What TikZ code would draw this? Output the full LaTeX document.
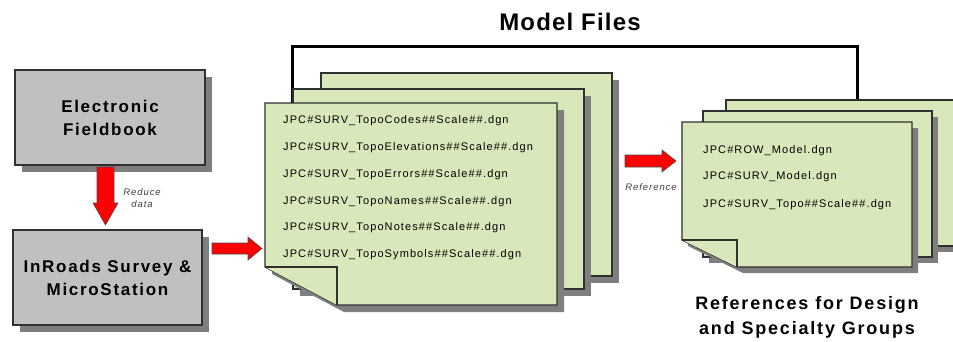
\documentclass[tikz,border=0pt]{standalone}
\usepackage{fontspec}
\setmainfont{Liberation Sans}
\newfontfamily\lsp[LetterSpace=10]{Liberation Sans}
\newfontfamily\lspb[LetterSpace=10,BoldFont={Liberation Sans Bold}]{Liberation Sans}
\definecolor{pagegreen}{HTML}{D9E8BA}
\definecolor{boxgray}{HTML}{C0C0C0}
\definecolor{shadowgray}{HTML}{7F7F7F}
\definecolor{arrowred}{HTML}{FF0000}
\definecolor{edgegray}{HTML}{303030}
\newcommand\plainpage[5]{%
  \fill[shadowgray] (#1+#5,#2+#5) rectangle (#3+#5,#4+#5);
  \filldraw[pageedge] (#1,#2) rectangle (#3,#4);}
\newcommand\foldpage[7]{%
  \fill[shadowgray] (#1+#7,#2+#7) -- (#3+#7,#2+#7) -- (#3+#7,#4+#7) -- (#6+#7,#4+#7) -- (#1+#7,#5+#7) -- cycle;
  \filldraw[pageedge] (#1,#2) -- (#3,#2) -- (#3,#4) -- (#6,#4) -- (#1,#5) -- cycle;
  \draw[pageedge] (#1,#5) -- (#6,#5) -- (#6,#4);}
\tikzset{
  pageedge/.style={fill=pagegreen,draw=edgegray,line width=1.3,line join=miter},
  graybox/.style={draw=edgegray,fill=boxgray,line width=1.3,minimum width=190,minimum height=95,
     align=center,font=\lspb\bfseries\fontsize{17}{23}\selectfont,inner sep=0},
  fname/.style={anchor=west,font=\lsp\fontsize{11}{13}\selectfont,text=black,inner sep=0},
  redarrow/.style={fill=arrowred,draw=black!70,line width=0.6,line join=miter},
  smalllabel/.style={font=\lsp\itshape\fontsize{9.5}{12}\selectfont,text=black!75,align=center,inner sep=0},
  heading/.style={font=\lspb\bfseries\fontsize{18}{25}\selectfont,align=center,inner sep=0}
}
\begin{document}
\begin{tikzpicture}[x=1pt,y=-1pt]
\useasboundingbox (0,0) rectangle (953,341);
% title
\node[font=\bfseries\addfontfeature{LetterSpace=5}\fontsize{24}{28}\selectfont,inner sep=0] (title) at (570,22) {Model Files};
% bracket connector
\coordinate (bl) at (292,103);
\coordinate (br) at (857,100);
\draw[line width=3,line join=miter] (bl) -- (292,46) -- (857,46) -- (br);
% gray boxes
\fill[shadowgray] (22,77) rectangle (212,172);
\node[graybox] (ef) at (110,117.5) {Electronic\\Fieldbook};
\fill[shadowgray] (20,237) rectangle (209,332);
\node[graybox,minimum width=189] (ir) at (107.5,277.5) {InRoads Survey \&\\MicroStation};
% left stack
\plainpage{321}{73}{612}{276}{7}
\plainpage{293}{89}{584}{289}{7}
\foldpage{265}{103}{557}{305}{267}{337}{7}
\node[fname] (f1) at (283,121) {JPC\#SURV\_TopoCodes\#\#Scale\#\#.dgn};
\node[fname] (f2) at (283,148) {JPC\#SURV\_TopoElevations\#\#Scale\#\#.dgn};
\node[fname] (f3) at (283,175) {JPC\#SURV\_TopoErrors\#\#Scale\#\#.dgn};
\node[fname] (f4) at (283,202) {JPC\#SURV\_TopoNames\#\#Scale\#\#.dgn};
\node[fname] (f5) at (283,228) {JPC\#SURV\_TopoNotes\#\#Scale\#\#.dgn};
\node[fname] (f6) at (283,255) {JPC\#SURV\_TopoSymbols\#\#Scale\#\#.dgn};
% right stack
\plainpage{726}{100}{965}{246}{6}
\plainpage{703}{111}{932}{257}{6}
\foldpage{682}{122}{912}{267}{240}{737}{6}
\node[fname] (r1) at (703,151) {JPC\#ROW\_Model.dgn};
\node[fname] (r2) at (703,177) {JPC\#SURV\_Model.dgn};
\node[fname] (r3) at (703,205) {JPC\#SURV\_Topo\#\#Scale\#\#.dgn};
% red block arrows
\draw[redarrow] (97,167) -- (114,167) -- (114,203) -- (118,203) -- (105.5,225) -- (93,203) -- (97,203) -- cycle;
\node[smalllabel] (reduce) at (142,198) {Reduce\\data};
\draw[redarrow] (212,243) -- (248,243) -- (248,237) -- (262,248.5) -- (248,260) -- (248,254) -- (212,254) -- cycle;
\draw[redarrow] (625,155) -- (662,155) -- (662,150) -- (676,161) -- (662,172) -- (662,167) -- (625,167) -- cycle;
\node[smalllabel] (refl) at (651,187) {Reference};
% bottom heading
\node[heading] (refs) at (807,317) {References for Design\\and Specialty Groups};
\end{tikzpicture}
\end{document}
